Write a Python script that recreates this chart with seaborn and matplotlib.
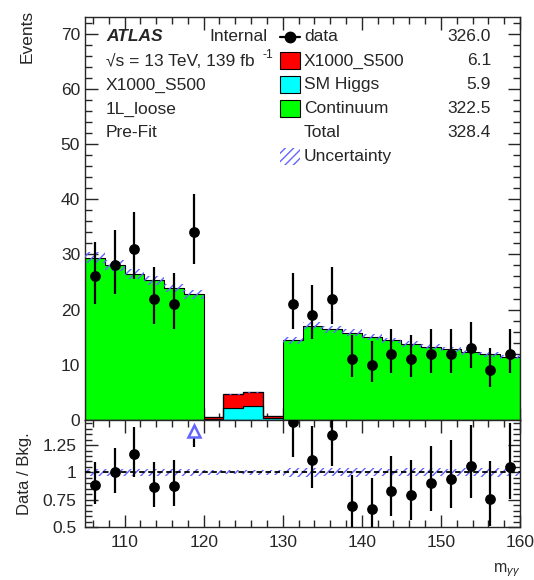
import numpy as np
import pandas as pd
import matplotlib
matplotlib.use("Agg")
import matplotlib.pyplot as plt
from matplotlib.patches import Rectangle
from matplotlib.ticker import MultipleLocator, FuncFormatter
import seaborn as sns

# ---------------- data ----------------
bin_edges = np.arange(105.0, 160.0 + 0.001, 2.5)
bin_centers = 0.5 * (bin_edges[:-1] + bin_edges[1:])

continuum = [29.4, 28.0, 26.5, 25.3, 23.9, 22.8,
             0.0, 0.0, 0.0, 0.0,
             14.4, 17.1, 16.4, 15.8, 15.1, 14.4, 13.8, 13.3, 12.8, 12.3, 11.9, 11.4]
sm_higgs = [0.0, 0.0, 0.0, 0.0, 0.0, 0.0,
            0.2, 2.2, 2.5, 0.3,
            0.0, 0.0, 0.0, 0.0, 0.0, 0.0, 0.0, 0.0, 0.0, 0.0, 0.0, 0.0]
signal = [0.0, 0.0, 0.0, 0.0, 0.0, 0.0,
          0.3, 2.5, 2.5, 0.4,
          0.0, 0.0, 0.0, 0.0, 0.0, 0.0, 0.0, 0.0, 0.0, 0.0, 0.0, 0.0]
bkg_unc = [1.0, 0.95, 0.9, 0.85, 0.8, 0.8,
           0.01, 0.09, 0.1, 0.014,
           0.55, 0.65, 0.6, 0.6, 0.55, 0.5, 0.5, 0.5, 0.45, 0.45, 0.45, 0.4]
data_counts = [26, 28, 31, 22, 21, 34,
               np.nan, np.nan, np.nan, np.nan,
               21, 19, 22, 11, 10, 12, 11, 12, 12, 13, 9, 12]

legend_labels = ["data", "X1000_S500", "SM Higgs", "Continuum", "Total", "Uncertainty"]
legend_values = ["326.0", "6.1", "5.9", "322.5", "328.4", ""]
info_lines = ["X1000_S500", "1L_loose", "Pre-Fit"]

ratio_ylim = (0.5, 1.48)
events_ylim = (0, 73)

# ---------------- style ----------------
sns.set_style("ticks")
plt.rcParams["font.family"] = ["Liberation Sans", "DejaVu Sans"]
plt.rcParams["mathtext.fontset"] = "custom"
plt.rcParams["mathtext.rm"] = "Liberation Sans"
plt.rcParams["mathtext.it"] = "Liberation Sans:italic"
plt.rcParams["hatch.linewidth"] = 1.0
FS = 12.5

C_GREEN = "#00ff00"
C_CYAN = "#00ffff"
C_RED = "#ff0000"
C_HATCH = "#6464ff"
HATCH = "////"

fig = plt.figure(figsize=(5.34, 5.80), dpi=100)
ax = fig.add_axes([0.1592, 0.2759, 0.8146, 0.6948])
axr = fig.add_axes([0.1592, 0.0914, 0.8146, 0.1845], sharex=ax)

# ---------------- stacked histogram ----------------
rows = []
for name, vals in [("Continuum", continuum), ("X1000_S500", signal), ("SM Higgs", sm_higgs)]:
    for c, v in zip(bin_centers, vals):
        rows.append({"mass": c, "events": v, "component": name})
df = pd.DataFrame(rows)

sns.histplot(data=df, x="mass", weights="events", hue="component",
             hue_order=["Continuum", "X1000_S500", "SM Higgs"],
             palette={"Continuum": C_GREEN, "X1000_S500": C_RED, "SM Higgs": C_CYAN},
             bins=len(bin_centers), binrange=(bin_edges[0], bin_edges[-1]),
             multiple="stack", element="step", fill=True,
             alpha=1, edgecolor="black", linewidth=0.8, legend=False, ax=ax)

total = np.array(continuum) + np.array(sm_higgs) + np.array(signal)
unc = np.array(bkg_unc)
tot_ext = np.append(total, total[-1])
unc_ext = np.append(unc, unc[-1])
ax.fill_between(bin_edges, tot_ext - unc_ext, tot_ext + unc_ext, step="post",
                facecolor="none", edgecolor=C_HATCH, hatch=HATCH, linewidth=0, zorder=3)

# data points
data = np.array(data_counts, dtype=float)
valid = ~np.isnan(data)
n = data[valid]
lo = n * (1 - 1 / (9 * n) - 1 / (3 * np.sqrt(n))) ** 3
hi = (n + 1) * (1 - 1 / (9 * (n + 1)) + 1 / (3 * np.sqrt(n + 1))) ** 3
err_lo = n - lo
err_hi = hi - n
xc = bin_centers[valid]
ax.errorbar(xc, n, yerr=[err_lo, err_hi], fmt="none", ecolor="black",
            elinewidth=1.6, capsize=0, zorder=5)
sns.scatterplot(x=xc, y=n, color="black", s=60, linewidth=0, zorder=6, ax=ax)

ax.set_xlim(105, 160)
ax.set_ylim(*events_ylim)
ax.set_xlabel("")
ax.set_ylabel("Events", fontsize=FS, loc="top")
ax.yaxis.set_label_coords(-0.115, 1.017)
ax.yaxis.set_major_locator(MultipleLocator(10))
ax.yaxis.set_minor_locator(MultipleLocator(2))
ax.xaxis.set_major_locator(MultipleLocator(10))
ax.xaxis.set_minor_locator(MultipleLocator(2))
ax.tick_params(which="both", direction="in", top=True, right=True, labelsize=FS,
               labelbottom=False, width=1.0)
ax.tick_params(which="major", length=9)
ax.tick_params(which="minor", length=5)
for sp in ax.spines.values():
    sp.set_linewidth(1.0)

# ---------------- text block ----------------
def fx(px):
    return (px - 85) / 435.0

def fy(py):
    return (420 - py) / 403.0

ax.text(fx(106), fy(37), "ATLAS", transform=ax.transAxes, fontsize=FS,
        fontweight="bold", fontstyle="italic", va="center", ha="left")
ax.text(fx(209), fy(37), "Internal", transform=ax.transAxes, fontsize=FS,
        va="center", ha="left")
ax.text(fx(106), fy(61), "\u221as = 13 TeV, 139 fb", transform=ax.transAxes,
        fontsize=FS, va="center", ha="left")
ax.text(fx(262), fy(55), "-1", transform=ax.transAxes, fontsize=FS * 0.7,
        va="center", ha="left")
for i, line in enumerate(info_lines):
    ax.text(fx(106), fy(85 + 24 * i), line, transform=ax.transAxes,
            fontsize=FS, va="center", ha="left")

# ---------------- legend ----------------
row_y = [37, 61, 85, 109, 133, 157]
box_colors = [None, C_RED, C_CYAN, C_GREEN, None, None]
for i, (lab, val) in enumerate(zip(legend_labels, legend_values)):
    yy = fy(row_y[i])
    ax.text(fx(304), yy, lab, transform=ax.transAxes, fontsize=FS, va="center", ha="left")
    if val:
        ax.text(fx(491), yy, val, transform=ax.transAxes, fontsize=FS, va="center", ha="right")
    if box_colors[i] is not None:
        ax.add_patch(Rectangle((fx(280), yy - 8.5 / 403), 20 / 435, 17 / 403,
                               transform=ax.transAxes, facecolor=box_colors[i],
                               edgecolor="black", linewidth=0.8, zorder=7))
    if lab == "data":
        ax.plot([fx(280), fx(300)], [yy, yy], transform=ax.transAxes, color="black",
                lw=1.6, zorder=7)
        ax.plot([fx(290)], [yy], transform=ax.transAxes, marker="o", color="black",
                ms=7.5, zorder=8)
    if lab == "Uncertainty":
        ax.add_patch(Rectangle((fx(280), yy - 8.5 / 403), 20 / 435, 17 / 403,
                               transform=ax.transAxes, facecolor="none",
                               edgecolor=C_HATCH, hatch=HATCH, linewidth=0, zorder=7))

# ---------------- ratio panel ----------------
rel_bins = unc / np.where(total > 0, total, 1)
rel = np.append(rel_bins, rel_bins[-1])
axr.fill_between(bin_edges, 1 - rel, 1 + rel, step="post", facecolor="none",
                 edgecolor=C_HATCH, hatch=HATCH, linewidth=0, zorder=2)
axr.axhline(1, color="black", ls=(0, (3, 2)), lw=1.3, zorder=3)

tot_valid = total[valid]
ratio = n / tot_valid
r_lo = err_lo / tot_valid
r_hi = err_hi / tot_valid
inr = ratio <= ratio_ylim[1]
axr.errorbar(xc[inr], ratio[inr], yerr=[r_lo[inr], r_hi[inr]], fmt="none",
             ecolor="black", elinewidth=1.6, capsize=0, zorder=5)
sns.scatterplot(x=xc[inr], y=ratio[inr], color="black", s=60, linewidth=0,
                zorder=6, ax=axr)
out = ~inr
arrow_y = ratio_ylim[1] - 0.10
axr.vlines(xc[out], (ratio - r_lo)[out], arrow_y - 0.04, color="black", lw=1.6, zorder=5)
axr.plot(xc[out], np.full(out.sum(), arrow_y), ls="none", marker="^", mfc="white",
         mec=C_HATCH, mew=1.8, ms=8, zorder=6)

axr.set_ylim(*ratio_ylim)
axr.set_xlim(105, 160)
axr.yaxis.set_major_locator(MultipleLocator(0.25))
axr.yaxis.set_minor_locator(MultipleLocator(0.05))
axr.yaxis.set_major_formatter(FuncFormatter(lambda v, p: f"{v:g}"))
axr.tick_params(which="both", direction="in", top=True, right=True, labelsize=FS,
                width=1.0, pad=6)
axr.tick_params(which="major", length=9)
axr.tick_params(which="minor", length=5)
for sp in axr.spines.values():
    sp.set_linewidth(1.0)
axr.set_ylabel("Data / Bkg.", fontsize=12, labelpad=8)
axr.set_xlabel(r"m$_{\gamma\gamma}$", fontsize=11.5, loc="right", labelpad=8)

fig.savefig("out.png", dpi=100)
